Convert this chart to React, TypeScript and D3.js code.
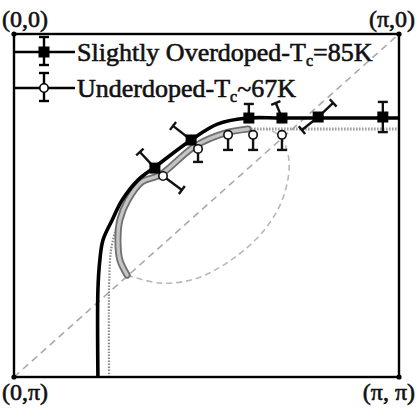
import React from 'react';
import * as d3 from 'd3';

const W = 418;
const H = 412;

// Momentum coordinates in units of π: kx grows to the right, ky grows downward.
const overdopedLineKx = [0.218, 0.218, 0.223, 0.231, 0.255, 0.281, 0.322, 0.366, 0.46, 0.53, 0.608, 0.696, 1.0];
const overdopedLineKy = [1.0, 0.746, 0.659, 0.601, 0.542, 0.484, 0.426, 0.388, 0.309, 0.262, 0.245, 0.245, 0.245];

const overdopedKx = [0.366, 0.46, 0.61, 0.696, 0.79, 0.958];
const overdopedKy = [0.391, 0.309, 0.245, 0.245, 0.242, 0.242];
// error-bar arms for each overdoped point, as [dkx, dky] offsets
const overdopedErr: [number, number][][] = [
  [[-0.039, -0.047]],
  [[-0.047, -0.041]],
  [[0, -0.041]],
  [[-0.016, -0.044]],
  [[0.039, -0.041], [-0.042, 0.038]],
  [[0, -0.044], [0, 0.044]],
];

const underdopedArcKx = [0.294, 0.275, 0.27, 0.275, 0.296, 0.332, 0.379, 0.47, 0.548, 0.608];
const underdopedArcKy = [0.703, 0.659, 0.601, 0.542, 0.484, 0.431, 0.411, 0.327, 0.289, 0.277];

const underdopedEdgeKx = [0.247, 0.247, 0.252, 0.265];
const underdopedEdgeKy = [1.0, 0.732, 0.63, 0.566];
const underdopedTopKx = [0.608, 0.995];
const underdopedTopKy = [0.277, 0.277];

const pocketBackKx = [0.294, 0.379, 0.47, 0.556, 0.639, 0.691, 0.712, 0.714, 0.704, 0.681, 0.655];
const pocketBackKy = [0.703, 0.726, 0.714, 0.665, 0.586, 0.499, 0.42, 0.367, 0.324, 0.289, 0.277];

const underdopedKx = [0.387, 0.478, 0.556, 0.621, 0.696];
const underdopedKy = [0.414, 0.335, 0.294, 0.294, 0.294];
const underdopedErr: [number, number][][] = [
  [[0.049, 0.041]],
  [[0, 0.038]],
  [[0, 0.044]],
  [[0, 0.044]],
  [[0, 0.044]],
];

const cornerLabels = ['(0,0)', '(π,0)', '(0,π)', '(π, π)'];
const legendNames = ['Slightly Overdoped-T', 'Underdoped-T'];
const legendTails = ['=85K', '~67K'];

const x = d3.scaleLinear().domain([0, 1]).range([14, 399]);
const y = d3.scaleLinear().domain([0, 1]).range([34, 377]);

const zip = (a: number[], b: number[]): [number, number][] => a.map((v, i) => [v, b[i]]);

const smooth = d3
  .line<[number, number]>()
  .x((d) => x(d[0]))
  .y((d) => y(d[1]))
  .curve(d3.curveCatmullRom.alpha(0.5));
const straight = d3
  .line<[number, number]>()
  .x((d) => x(d[0]))
  .y((d) => y(d[1]));

const SERIF = '"Liberation Serif", "Times New Roman", "DejaVu Serif", serif';

function ErrorArm({ px, py, ex, ey }: { px: number; py: number; ex: number; ey: number }) {
  const dx = ex - px;
  const dy = ey - py;
  const len = Math.hypot(dx, dy) || 1;
  const nx = (-dy / len) * 5;
  const ny = (dx / len) * 5;
  return (
    <g stroke="#111" strokeWidth={2.4}>
      <line x1={px} y1={py} x2={ex} y2={ey} />
      <line x1={ex - nx} y1={ey - ny} x2={ex + nx} y2={ey + ny} />
    </g>
  );
}

export default function App() {
  const overdopedPts = zip(overdopedKx, overdopedKy);
  const underdopedPts = zip(underdopedKx, underdopedKy);

  return (
    <svg
      width={W}
      height={H}
      viewBox={`0 0 ${W} ${H}`}
      style={{ position: 'absolute', left: 0, top: 0, background: '#fff' }}
    >
      <rect x={0} y={0} width={W} height={H} fill="#fff" />

      {/* antinodal diagonal (0,π) – (π,0) */}
      <path
        d={straight([[0, 1], [1, 0]]) || ''}
        stroke="#aaa"
        strokeWidth={1.6}
        strokeDasharray="7 5"
        fill="none"
      />

      {/* back side of the hole pocket */}
      <path
        d={smooth(zip(pocketBackKx, pocketBackKy)) || ''}
        stroke="#b8b8b8"
        strokeWidth={1.6}
        strokeDasharray="6 4"
        fill="none"
      />

      {/* underdoped surface: dotted continuations */}
      <path
        d={smooth(zip(underdopedEdgeKx, underdopedEdgeKy)) || ''}
        stroke="#888"
        strokeWidth={2.2}
        strokeDasharray="1.5 1.5"
        fill="none"
      />
      <path
        d={straight(zip(underdopedTopKx, underdopedTopKy)) || ''}
        stroke="#999"
        strokeWidth={3}
        strokeDasharray="1.5 1.5"
        fill="none"
      />

      {/* underdoped arc: grey band with darker rims */}
      <path
        d={smooth(zip(underdopedArcKx, underdopedArcKy)) || ''}
        stroke="#6f6f6f"
        strokeWidth={7}
        strokeLinecap="round"
        fill="none"
      />
      <path
        d={smooth(zip(underdopedArcKx, underdopedArcKy)) || ''}
        stroke="#c4c4c4"
        strokeWidth={3.4}
        strokeLinecap="round"
        fill="none"
      />

      {/* overdoped Fermi surface */}
      <path
        d={smooth(zip(overdopedLineKx, overdopedLineKy)) || ''}
        stroke="#000"
        strokeWidth={3.6}
        fill="none"
      />

      {/* underdoped data */}
      {underdopedPts.map(([kx, ky], i) => (
        <g key={`u${i}`}>
          {underdopedErr[i].map(([dx, dy], j) => (
            <ErrorArm key={j} px={x(kx)} py={y(ky)} ex={x(kx + dx)} ey={y(ky + dy)} />
          ))}
          <circle cx={x(kx)} cy={y(ky)} r={4.2} fill="#fff" stroke="#111" strokeWidth={1.6} />
        </g>
      ))}

      {/* overdoped data */}
      {overdopedPts.map(([kx, ky], i) => (
        <g key={`o${i}`}>
          {overdopedErr[i].map(([dx, dy], j) => (
            <ErrorArm key={j} px={x(kx)} py={y(ky)} ex={x(kx + dx)} ey={y(ky + dy)} />
          ))}
          <rect x={x(kx) - 5.5} y={y(ky) - 5.5} width={11} height={11} fill="#000" />
        </g>
      ))}

      {/* zone frame */}
      <rect
        x={x(0)}
        y={y(0)}
        width={x(1) - x(0)}
        height={y(1) - y(0)}
        fill="none"
        stroke="#000"
        strokeWidth={2.4}
      />
      {[
        [0, 0],
        [1, 0],
        [0, 1],
        [1, 1],
      ].map(([a, b], i) => (
        <circle key={i} cx={x(a)} cy={y(b)} r={2.6} fill="#000" />
      ))}

      {/* legend */}
      {legendNames.map((name, i) => {
        const ly = 52 + i * 36;
        return (
          <g key={name}>
            <line x1={x(0)} x2={75} y1={ly} y2={ly} stroke="#000" strokeWidth={2.6} />
            <line x1={44} x2={44} y1={ly - 15} y2={ly + 13} stroke="#000" strokeWidth={2.4} />
            <line x1={39} x2={49} y1={ly - 15} y2={ly - 15} stroke="#000" strokeWidth={2.4} />
            <line x1={39} x2={49} y1={ly + 13} y2={ly + 13} stroke="#000" strokeWidth={2.4} />
            {i === 0 ? (
              <rect x={38.5} y={ly - 5.5} width={11} height={11} fill="#000" />
            ) : (
              <circle cx={44} cy={ly} r={4.2} fill="#fff" stroke="#000" strokeWidth={1.6} />
            )}
            <text
              x={77}
              y={ly + 9}
              fontFamily={SERIF}
              fontSize={26}
              fill="#111"
              stroke="#111"
              strokeWidth={0.6}
            >
              {name}
              <tspan fontSize={16} dy={5}>
                c
              </tspan>
              <tspan dy={-5}>{legendTails[i]}</tspan>
            </text>
          </g>
        );
      })}

      {/* corner labels */}
      <g fontFamily={SERIF} fontSize={24} fill="#111" stroke="#111" strokeWidth={0.6}>
        <text x={2} y={27}>{cornerLabels[0]}</text>
        <text x={415} y={27} textAnchor="end">{cornerLabels[1]}</text>
        <text x={2} y={400}>{cornerLabels[2]}</text>
        <text x={415} y={400} textAnchor="end">{cornerLabels[3]}</text>
      </g>
    </svg>
  );
}
